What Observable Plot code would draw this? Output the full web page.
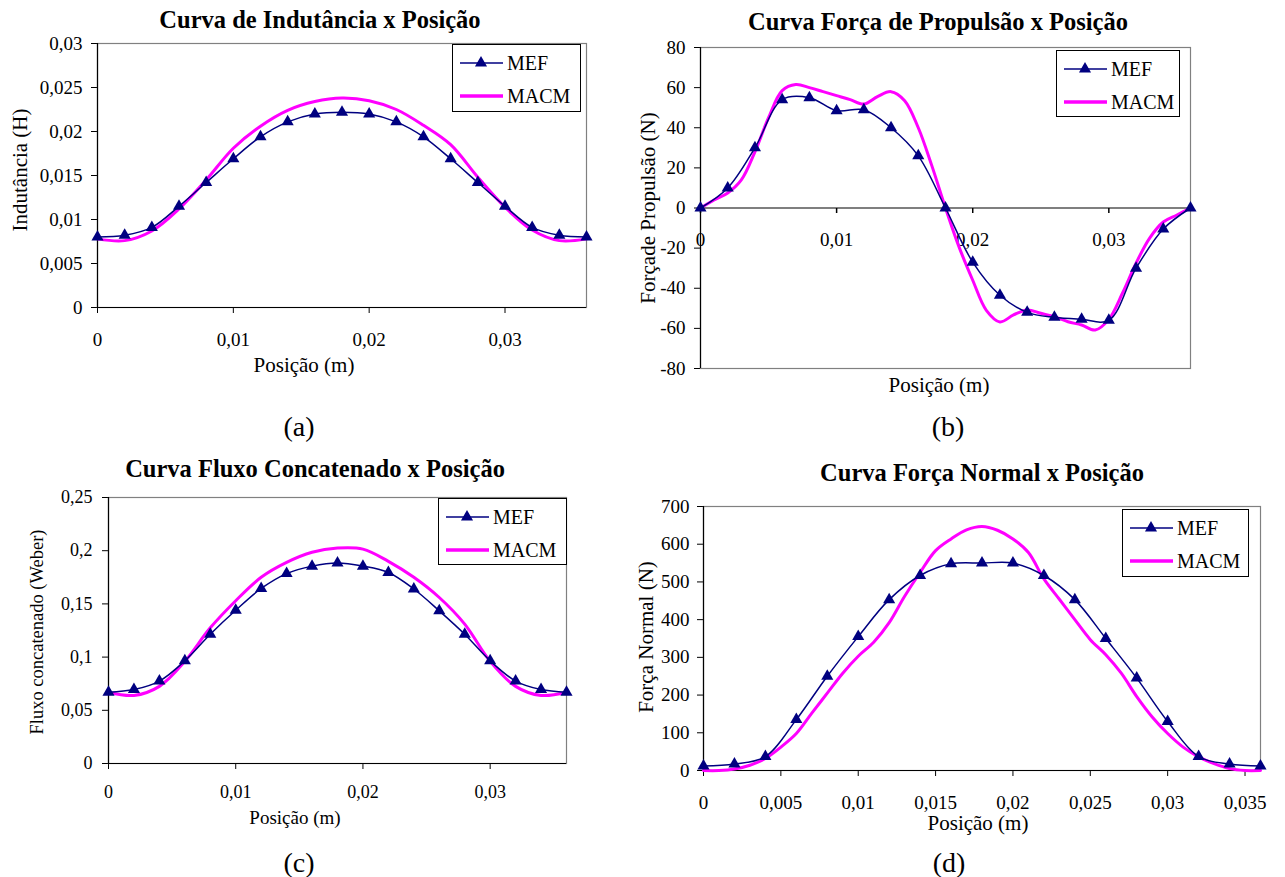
<!DOCTYPE html>
<html><head><meta charset="utf-8">
<script src="https://cdn.jsdelivr.net/npm/d3@7"></script>
<script src="https://cdn.jsdelivr.net/npm/@observablehq/plot@0.6"></script>
<style>
body{margin:0;background:#fff;}
#root{position:relative;width:1285px;height:877px;overflow:hidden;font-family:"Liberation Serif","Times New Roman",serif;color:#000;background:#fff;}
.abs{position:absolute;white-space:nowrap;line-height:1;}
.title{font-weight:bold;transform:translate(-50%,-50%);}
.xlab{transform:translate(-50%,-50%);}
.ylab{transform:translate(-50%,-50%) rotate(-90deg);}
.cap{transform:translate(-50%,-50%);}
.legend{position:absolute;border:1.5px solid #000;background:#fff;box-sizing:border-box;}
.legend span{position:absolute;font-size:20px;line-height:1;transform:translateY(-50%);}
</style></head>
<body><div id="root"></div>
<script>
// ---------------- data ----------------
const xMEF = [0, 0.002, 0.004, 0.006, 0.008, 0.010, 0.012, 0.014, 0.016, 0.018, 0.020, 0.022, 0.024, 0.026, 0.028, 0.030, 0.032, 0.034, 0.036];
const xFine = [0, 0.001, 0.002, 0.003, 0.004, 0.005, 0.006, 0.007, 0.008, 0.009, 0.010, 0.011, 0.012, 0.013, 0.014, 0.015, 0.016, 0.017, 0.018,
  0.019, 0.020, 0.021, 0.022, 0.023, 0.024, 0.025, 0.026, 0.027, 0.028, 0.029, 0.030, 0.031, 0.032, 0.033, 0.034, 0.035, 0.036];

// (a) Indutância (H)
const indMEF  = [0.0080, 0.0082, 0.0091, 0.0115, 0.0142, 0.0169, 0.0194, 0.0211, 0.0220, 0.0222, 0.0220, 0.0211, 0.0194, 0.0169, 0.0142, 0.0115, 0.0091, 0.0082, 0.0080];
const indMACM = [0.0078, 0.0076, 0.0087, 0.0112, 0.0145, 0.0181, 0.0206, 0.0224, 0.0234, 0.0238, 0.0235, 0.0225, 0.0207, 0.0185, 0.0148, 0.0114, 0.0088, 0.0076, 0.0078];

// (b) Força de Propulsão (N)
const propMEF  = [0, 10, 30, 54, 55, 48.5, 49, 40, 26, 0, -27, -43.5, -52, -54.5, -55.5, -56, -30, -10.5, 0];
const propMACM = [0, 4, 7.5, 14, 28, 45, 58.5, 61.5, 60, 58, 56, 54, 51.8, 55.5, 58, 53.5, 40, 21, 0,
  -19.5, -36, -51, -56.8, -53.3, -50.8, -52.5, -54.2, -56.7, -58.3, -60.8, -55.5, -42.5, -27.5, -15, -7, -3.5, 0];

// (c) Fluxo concatenado (Weber)
const fluxMEF  = [0.067, 0.0695, 0.0775, 0.0965, 0.1215, 0.144, 0.1645, 0.1785, 0.1855, 0.1885, 0.1855, 0.1795, 0.164, 0.1435, 0.1215, 0.0965, 0.0775, 0.0695, 0.067];
const fluxMACM = [0.067, 0.064, 0.0725, 0.096, 0.1275, 0.153, 0.175, 0.189, 0.1985, 0.2025, 0.2015, 0.19, 0.175, 0.156, 0.131, 0.096, 0.0725, 0.064, 0.067];

// (d) Força Normal (N)
const normMEF  = [12, 17, 37, 135, 250, 355, 453, 517, 548, 550, 550, 517, 453, 350, 245, 130, 37, 17, 12];
const normMACM = [0, 0, 4, 14, 32, 62, 98, 152, 205, 258, 303, 340, 392, 462, 525, 583, 614, 638, 647,
  637, 614, 578, 508, 454, 400, 347, 307, 258, 196, 142, 98, 62, 36, 18, 5, 0, 0];

// tick values
const xTicks3 = [0, 0.01, 0.02, 0.03];
const xTicksD = [0, 0.005, 0.01, 0.015, 0.02, 0.025, 0.03, 0.035];
const yTicksA = [0, 0.005, 0.01, 0.015, 0.02, 0.025, 0.03];
const yTicksB = [-80, -60, -40, -20, 0, 20, 40, 60, 80];
const yTicksC = [0, 0.05, 0.1, 0.15, 0.2, 0.25];
const yTicksD = [0, 100, 200, 300, 400, 500, 600, 700];

// text
const titles = ["Curva de Indutância x Posição", "Curva Força de Propulsão x Posição", "Curva Fluxo Concatenado x Posição", "Curva Força Normal x Posição"];
const yLabels = ["Indutância (H)", "Forçade Propulsão (N)", "Fluxo concatenado (Weber)", "Força Normal (N)"];
const xLabel = "Posição (m)";
const captions = ["(a)", "(b)", "(c)", "(d)"];
const seriesNames = ["MEF", "MACM"];

// ---------------- drawing ----------------
const MEF_COLOR = "#000080", MACM_COLOR = "#FF00FF";
const fmt = d => String(d).replace(".", ",");
const root = document.getElementById("root");
const tickDown = {draw(ctx) { ctx.moveTo(0, 0); ctx.lineTo(0, 5); }};

function addText(cls, text, x, y, size, extra) {
  const el = document.createElement("div");
  el.className = "abs " + cls;
  el.textContent = text;
  el.style.left = x + "px"; el.style.top = y + "px";
  el.style.fontSize = size + "px";
  if (extra) Object.assign(el.style, extra);
  root.appendChild(el);
}

function addLegend(L, T, W, H) {
  const box = document.createElement("div");
  box.className = "legend";
  Object.assign(box.style, {left: L + "px", top: T + "px", width: W + "px", height: H + "px"});
  const ns = "http://www.w3.org/2000/svg";
  const svg = document.createElementNS(ns, "svg");
  svg.setAttribute("width", W); svg.setAttribute("height", H);
  svg.style.position = "absolute"; svg.style.left = "-1.5px"; svg.style.top = "-1.5px";
  const yM = 19, yC = 52;
  const l1 = document.createElementNS(ns, "line");
  l1.setAttribute("x1", 8); l1.setAttribute("x2", 51); l1.setAttribute("y1", yM); l1.setAttribute("y2", yM);
  l1.setAttribute("stroke", MEF_COLOR); l1.setAttribute("stroke-width", 1.5);
  const tri = document.createElementNS(ns, "path");
  tri.setAttribute("d", d3.symbol(d3.symbolTriangle, Math.PI * 4.5 * 4.5)());
  tri.setAttribute("transform", `translate(29,${yM})`);
  tri.setAttribute("fill", MEF_COLOR);
  const l2 = document.createElementNS(ns, "line");
  l2.setAttribute("x1", 8); l2.setAttribute("x2", 51); l2.setAttribute("y1", yC); l2.setAttribute("y2", yC);
  l2.setAttribute("stroke", MACM_COLOR); l2.setAttribute("stroke-width", 3.5);
  svg.append(l1, tri, l2);
  box.appendChild(svg);
  [[seriesNames[0], yM], [seriesNames[1], yC]].forEach(([t, y]) => {
    const s = document.createElement("span");
    s.textContent = t; s.style.left = "54px"; s.style.top = (y - 1.5) + "px";
    box.appendChild(s);
  });
  root.appendChild(box);
}

function panel(p) {
  const mef = xMEF.map((x, i) => ({x, y: p.mef[i]}));
  const macm = p.xm.map((x, i) => ({x, y: p.macm[i]}));
  const marks = [
    Plot.frame({stroke: "#808080", strokeWidth: 1.2}),
    Plot.ruleX([0], {stroke: "#000", strokeWidth: 1.2}),
    Plot.ruleY([p.xAxisAt], {stroke: "#000", strokeWidth: 1.2}),
  ];
  if (p.customX) {
    marks.push(
      Plot.dot(xTicks3, {x: d => d, y: () => 0, symbol: tickDown, r: 3, stroke: "#000", fill: "none"}),
      Plot.text(xTicks3, {x: d => d, y: () => 0, text: fmt, lineAnchor: "top", dy: 24, fontSize: p.tickFont})
    );
  }
  marks.push(
    Plot.line(macm, {x: "x", y: "y", stroke: MACM_COLOR, strokeWidth: 3, curve: "catmull-rom"}),
    Plot.line(mef, {x: "x", y: "y", stroke: MEF_COLOR, strokeWidth: 1.5, curve: "catmull-rom"}),
    Plot.dot(mef, {x: "x", y: "y", symbol: "triangle", r: 4.5, fill: MEF_COLOR, stroke: "none"})
  );
  const chart = Plot.plot({
    width: p.w, height: p.h,
    marginLeft: p.ml, marginRight: p.mr, marginTop: p.mt, marginBottom: p.mb,
    x: p.customX ? {domain: [0, 0.036], axis: null}
                 : {domain: [0, 0.036], ticks: p.xTicks, tickFormat: fmt, tickSize: 6, tickPadding: p.xPad, label: null},
    y: {domain: p.yDomain, ticks: p.yTicks, tickFormat: fmt, tickSize: 6, tickPadding: p.yPad, label: null},
    style: {fontFamily: "'Liberation Serif','Times New Roman',serif", fontSize: p.tickFont + "px", color: "#000", background: "transparent", overflow: "visible"},
    marks
  });
  const wrap = document.createElement("div");
  Object.assign(wrap.style, {position: "absolute", left: p.left + "px", top: p.top + "px"});
  chart.style.display = "block";
  wrap.appendChild(chart);
  root.appendChild(wrap);
}

panel({left: 0, top: 0, w: 640, h: 440, ml: 97, mr: 54, mt: 43, mb: 133,
  mef: indMEF, xm: xMEF, macm: indMACM, yDomain: [0, 0.03], yTicks: yTicksA, xTicks: xTicks3,
  xAxisAt: 0, xPad: 19, yPad: 9, tickFont: 19});
panel({left: 640, top: 0, w: 645, h: 440, ml: 60, mr: 95, mt: 47, mb: 72,
  mef: propMEF, xm: xFine, macm: propMACM, yDomain: [-80, 80], yTicks: yTicksB, customX: true,
  xAxisAt: 0, yPad: 9, tickFont: 19});
panel({left: 0, top: 440, w: 640, h: 437, ml: 108, mr: 74, mt: 57, mb: 114,
  mef: fluxMEF, xm: xMEF, macm: fluxMACM, yDomain: [0, 0.25], yTicks: yTicksC, xTicks: xTicks3,
  xAxisAt: 0, xPad: 16, yPad: 10, tickFont: 18});
panel({left: 640, top: 440, w: 645, h: 437, ml: 63, mr: 25, mt: 66, mb: 107,
  mef: normMEF, xm: xFine, macm: normMACM, yDomain: [0, 700], yTicks: yTicksD, xTicks: xTicksD,
  xAxisAt: 0, xPad: 19, yPad: 8, tickFont: 19});

// titles, axis labels, captions
const tPos = [[320, 20, 24.5], [938, 22, 24.5], [315, 469, 24.5], [982, 473, 24.5]];
const yPos = [[20, 170, 21], [648, 208, 21], [37, 632, 18.5], [646, 637, 21]];
const xPos = [[304, 365, 21], [939, 385, 21], [295, 817, 19], [978, 823, 21]];
const cPos = [[299, 427], [948, 427], [299, 863], [949, 863]];
for (let i = 0; i < 4; i++) {
  addText("title", titles[i], tPos[i][0], tPos[i][1], tPos[i][2]);
  addText("ylab", yLabels[i], yPos[i][0], yPos[i][1], yPos[i][2]);
  addText("xlab", xLabel, xPos[i][0], xPos[i][1], xPos[i][2]);
  addText("cap", captions[i], cPos[i][0], cPos[i][1], 28);
}
addLegend(452, 44, 129, 68);
addLegend(1056, 50, 124, 67);
addLegend(438, 498, 129, 67);
addLegend(1122, 509, 127, 68);
</script></body></html>
